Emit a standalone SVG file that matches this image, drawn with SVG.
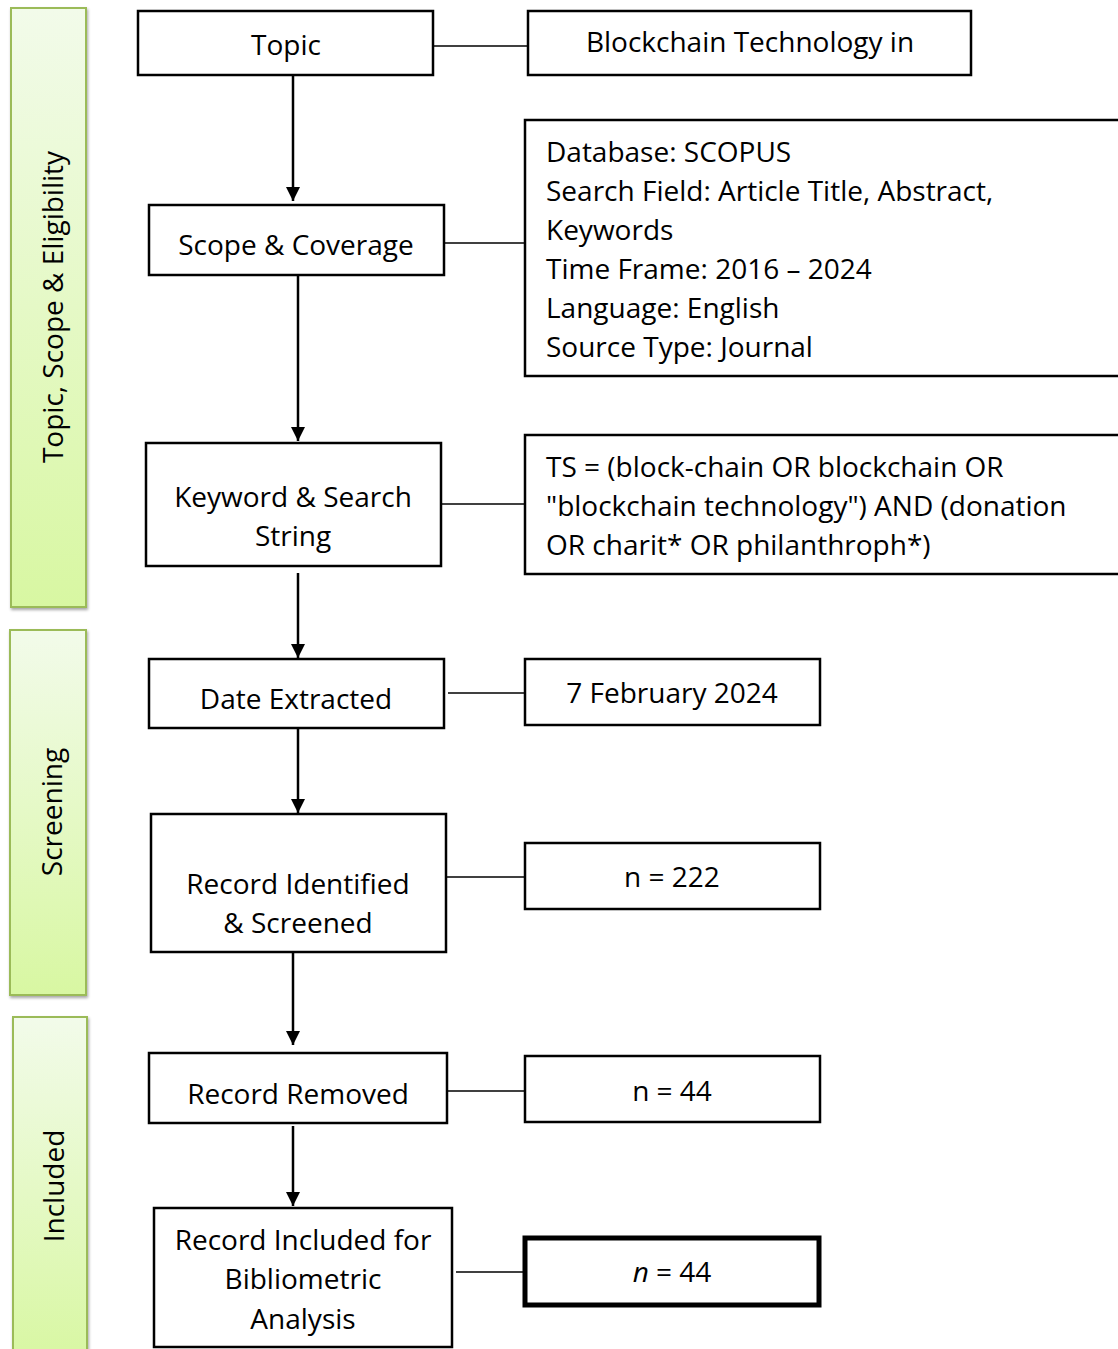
<svg xmlns="http://www.w3.org/2000/svg" width="1118" height="1349" viewBox="0 0 1118 1349">
<style>
text{font-family:"Open Sans","Noto Sans","Liberation Sans",sans-serif;font-size:28px;fill:#000}
.c{text-anchor:middle}
.box{fill:#fff;stroke:#000;stroke-width:2.5}
.bold{fill:#fff;stroke:#000;stroke-width:5}
.phase{stroke:#9bbb59;stroke-width:2}
.link{stroke:#000;stroke-width:1.5;fill:none}
.arrow{stroke:#000;stroke-width:2.5;fill:none;marker-end:url(#ah)}
</style>
<defs>
<linearGradient id="g" x1="0" y1="0" x2="0" y2="1">
<stop offset="0" stop-color="#f2fbea"/>
<stop offset="1" stop-color="#d8f7a2"/>
</linearGradient>
<filter id="sh" x="-20%" y="-5%" width="140%" height="110%">
<feDropShadow dx="1" dy="2" stdDeviation="1.5" flood-color="#000" flood-opacity="0.35"/>
</filter>
<marker id="ah" viewBox="0 0 10 10" refX="10" refY="5" markerWidth="5.6" markerHeight="5.6" orient="auto" markerUnits="strokeWidth">
<path d="M0,0 L10,5 L0,10 z" fill="#000"/>
</marker>
</defs>
<rect width="1118" height="1349" fill="#fff"/>

<g id="phase-topic">
<rect class="phase" x="11" y="8" width="75" height="599" fill="url(#g)" filter="url(#sh)"/>
<text class="c" transform="translate(63,307) rotate(-90)">Topic, Scope &amp; Eligibility</text>
</g>
<g id="phase-screening">
<rect class="phase" x="10" y="630" width="76" height="365" fill="url(#g)" filter="url(#sh)"/>
<text class="c" transform="translate(62,812) rotate(-90)">Screening</text>
</g>
<g id="phase-included">
<rect class="phase" x="13" y="1017" width="74" height="345" fill="url(#g)" filter="url(#sh)"/>
<text class="c" transform="translate(64,1186) rotate(-90)">Included</text>
</g>

<g id="connectors">
<line class="link" x1="433" y1="46" x2="528" y2="46"/>
<line class="link" x1="444" y1="243" x2="525" y2="243"/>
<line class="link" x1="441" y1="504" x2="525" y2="504"/>
<line class="link" x1="448" y1="693" x2="525" y2="693"/>
<line class="link" x1="446" y1="877" x2="525" y2="877"/>
<line class="link" x1="447" y1="1091" x2="525" y2="1091"/>
<line class="link" x1="456" y1="1272" x2="524" y2="1272"/>
<line class="arrow" x1="293" y1="75" x2="293" y2="201"/>
<line class="arrow" x1="298" y1="275" x2="298" y2="441"/>
<line class="arrow" x1="298" y1="573" x2="298" y2="658"/>
<line class="arrow" x1="298" y1="728" x2="298" y2="813"/>
<line class="arrow" x1="293" y1="952" x2="293" y2="1045"/>
<line class="arrow" x1="293" y1="1126" x2="293" y2="1206"/>
</g>

<g id="topic">
<rect class="box" x="138" y="11" width="295" height="64"/>
<text class="c" x="286" y="55">Topic</text>
</g>
<g id="topic-detail">
<rect class="box" x="528" y="11" width="443" height="64"/>
<text class="c" x="750" y="52">Blockchain Technology in</text>
</g>
<g id="scope">
<rect class="box" x="149" y="205" width="295" height="70"/>
<text class="c" x="296" y="255">Scope &amp; Coverage</text>
</g>
<g id="scope-detail">
<rect class="box" x="525" y="120" width="610" height="256"/>
<text x="546" y="162">Database: SCOPUS</text>
<text x="546" y="201">Search Field: Article Title, Abstract,</text>
<text x="546" y="240">Keywords</text>
<text x="546" y="279">Time Frame: 2016 – 2024</text>
<text x="546" y="318">Language: English</text>
<text x="546" y="357">Source Type: Journal</text>
</g>
<g id="keyword">
<rect class="box" x="146" y="443" width="295" height="123"/>
<text class="c" x="293" y="507">Keyword &amp; Search</text>
<text class="c" x="293" y="546">String</text>
</g>
<g id="keyword-detail">
<rect class="box" x="525" y="435" width="610" height="139"/>
<text x="546" y="477">TS = (block-chain OR blockchain OR</text>
<text x="546" y="516">"blockchain technology") AND (donation</text>
<text x="546" y="555">OR charit* OR philanthroph*)</text>
</g>
<g id="date">
<rect class="box" x="149" y="659" width="295" height="69"/>
<text class="c" x="296" y="709">Date Extracted</text>
</g>
<g id="date-detail">
<rect class="box" x="525" y="659" width="295" height="66"/>
<text class="c" x="672" y="703">7 February 2024</text>
</g>
<g id="identified">
<rect class="box" x="151" y="814" width="295" height="138"/>
<text class="c" x="298" y="894">Record Identified</text>
<text class="c" x="298" y="933">&amp; Screened</text>
</g>
<g id="identified-detail">
<rect class="box" x="525" y="843" width="295" height="66"/>
<text class="c" x="672" y="887">n = 222</text>
</g>
<g id="removed">
<rect class="box" x="149" y="1053" width="298" height="70"/>
<text class="c" x="298" y="1104">Record Removed</text>
</g>
<g id="removed-detail">
<rect class="box" x="525" y="1056" width="295" height="66"/>
<text class="c" x="672" y="1101">n = 44</text>
</g>
<g id="included">
<rect class="box" x="154" y="1208" width="298" height="139"/>
<text class="c" x="303" y="1250">Record Included for</text>
<text class="c" x="303" y="1289">Bibliometric</text>
<text class="c" x="303" y="1329">Analysis</text>
</g>
<g id="included-detail">
<rect class="bold" x="525" y="1238" width="294" height="67"/>
<text class="c" x="672" y="1282"><tspan font-style="italic">n</tspan> = 44</text>
</g>
</svg>
